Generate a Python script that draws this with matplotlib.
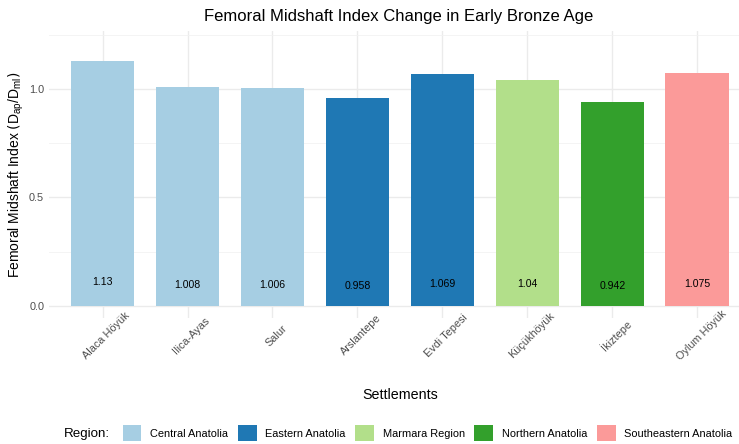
import matplotlib
matplotlib.use("Agg")
import matplotlib.pyplot as plt
from matplotlib.patches import Patch
from matplotlib.ticker import MultipleLocator
import matplotlib.transforms as mtransforms

plt.rcParams['font.family'] = ['Liberation Sans', 'DejaVu Sans']

settlements = ["Alaca Höyük", "Ilica-Ayas", "Salur", "Arslantepe", "Evdi Tepesi",
               "Küçükhöyük", "İkiztepe", "Oylum Höyük"]
values = [1.13, 1.008, 1.006, 0.958, 1.069, 1.04, 0.942, 1.075]
regions = ["Central Anatolia", "Central Anatolia", "Central Anatolia", "Eastern Anatolia",
           "Eastern Anatolia", "Marmara Region", "Northern Anatolia", "Southeastern Anatolia"]
region_order = ["Central Anatolia", "Eastern Anatolia", "Marmara Region",
                "Northern Anatolia", "Southeastern Anatolia"]
region_colors = ["#A6CEE3", "#1F78B4", "#B2DF8A", "#33A02C", "#FB9A99"]
cmap = dict(zip(region_order, region_colors))

W, H = 739, 444
fig = plt.figure(figsize=(W / 100, H / 100), dpi=100)
ax = fig.add_axes([49 / W, 126 / H, 690 / W, 287 / H])

x = list(range(len(settlements)))
ax.bar(x, values, width=0.75, color=[cmap[r] for r in regions], zorder=2)
for xi, v in zip(x, values):
    ax.text(xi, v * 0.1 - 0.004, f"{v:g}", ha="center", va="center", fontsize=7.6,
            color="black", zorder=3)

ax.set_xlim(-0.63, 7.49)
ax.set_ylim(-0.0553, 1.267)
ax.yaxis.set_minor_locator(MultipleLocator(0.25))
ax.set_yticks([0, 0.5, 1.0])
ax.set_yticklabels(["0.0", "0.5", "1.0"])
ax.grid(which="major", color="#EBEBEB", linewidth=1.0, zorder=0)
ax.grid(which="minor", axis="y", color="#F2F2F2", linewidth=0.6, zorder=0)
ax.set_axisbelow(True)
for s in ax.spines.values():
    s.set_visible(False)
ax.tick_params(axis="both", which="both", length=0, labelsize=7.8, labelcolor="#4D4D4D")
ax.tick_params(axis="y", pad=3.5)

ax.set_xticks(x)
ax.set_xticklabels(settlements, rotation=45, ha="center", va="center",
                   rotation_mode="anchor")
ax.tick_params(axis="x", pad=12.5)
offset = mtransforms.ScaledTranslation(4 / 100, 0, fig.dpi_scale_trans)
for lab in ax.get_xticklabels():
    lab.set_transform(lab.get_transform() + offset)

ax.set_ylabel(r"Femoral Midshaft Index $(\mathregular{D_{ap}/D_{ml}})$", fontsize=10,
              color="black", labelpad=2)
fig.text(399 / W, 1 - 16 / H, "Femoral Midshaft Index Change in Early Bronze Age",
         ha="center", va="center", fontsize=12)
fig.text(400 / W, 1 - 395 / H, "Settlements", ha="center", va="center", fontsize=10.3)

fig.text(64 / W, 1 - 434 / H, "Region:", ha="left", va="center", fontsize=9.6)
handles = [Patch(facecolor=c, edgecolor="none") for c in region_colors]
fig.legend(handles, region_order, ncol=5, frameon=False, fontsize=7.9,
           loc="center left", bbox_to_anchor=(122.5 / W, 1 - 433 / H),
           handlelength=1.73, handleheight=1.82, handletextpad=0.8,
           columnspacing=0.85, borderaxespad=0, borderpad=0)

fig.savefig("out.png", dpi=100)
